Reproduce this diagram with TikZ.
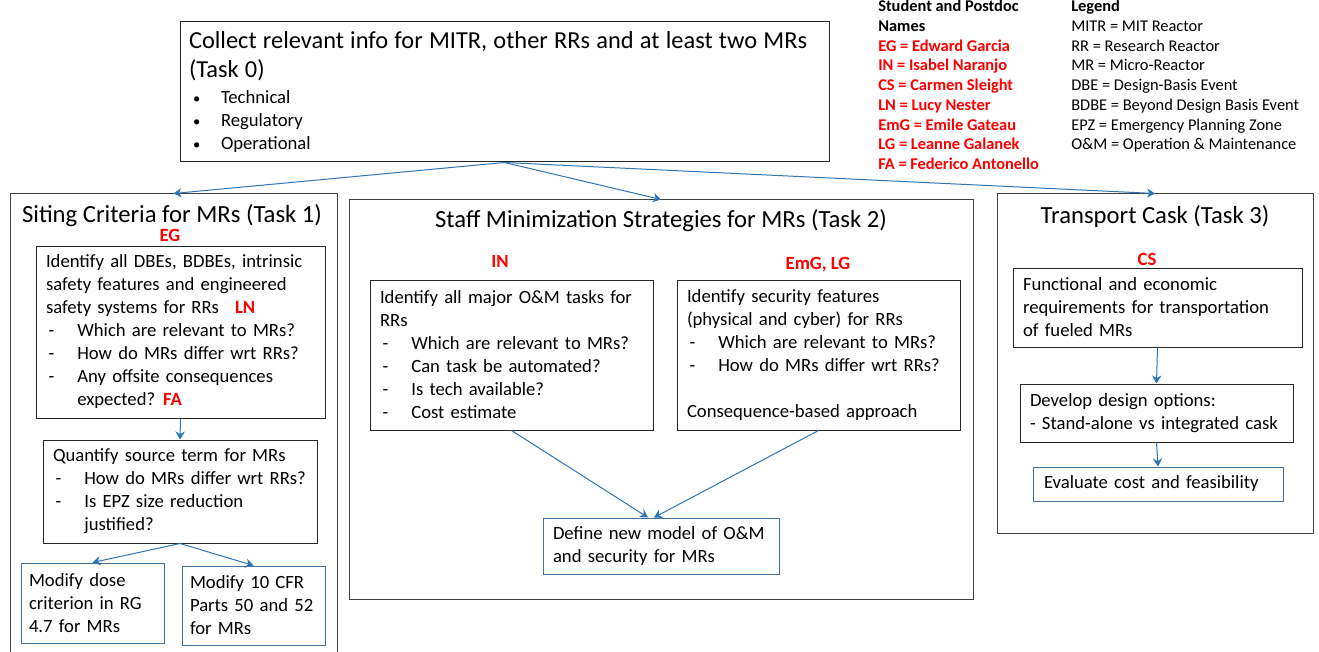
\documentclass[tikz,border=0pt]{standalone}
\usepackage{fontspec}
\setmainfont{Carlito}
\usetikzlibrary{arrows.meta}
\setlength{\parindent}{0pt}

\definecolor{arrowblue}{RGB}{46,117,182}
\definecolor{boxblue}{RGB}{65,113,156}

\newcommand{\nm}[1]{{\bfseries\color{red}#1}}
\newcommand{\dsh}{\makebox[23.5pt][l]{\hspace{2pt}-}}
\newcommand{\bul}{\makebox[24pt][l]{\hspace{3pt}{\fontsize{11}{11}\selectfont\textbullet}}}

\tikzset{
  frame/.style={draw=black!75, line width=0.75pt, inner sep=0pt},
  box/.style={draw=black!85, line width=0.75pt, align=left, inner xsep=7.5pt, inner ysep=0pt,
    font=\fontsize{14}{17.25}\selectfont},
  bluebox/.style={box, draw=boxblue},
  title/.style={font=\fontsize{18.5}{21}\selectfont},
  lead/.style={font=\fontsize{14}{16}\selectfont\bfseries, text=red},
  legend/.style={align=left, inner sep=0pt, anchor=north west, font=\fontsize{12.3}{14.8}\selectfont},
  flow/.style={every edge/.style={draw=arrowblue, line width=0.75pt, -{Stealth[length=6pt,width=7pt]}}}
}

\begin{document}
\begin{tikzpicture}[x=0.75pt, y=-0.75pt]
  \useasboundingbox (0,0) rectangle (1319,652);

  % task 0
  \node[box, text width=473.25pt, minimum height=105pt, inner xsep=6.75pt] (t0) at (504.5,92) {%
    {\fontsize{18.3}{21.75}\selectfont Collect relevant info for MITR, other RRs and at least two MRs\\(Task 0)\par}\vspace{2.25pt}
    {\bul Technical\\ \bul Regulatory\\ \bul Operational\par}};

  % names and legend
  \node[legend] (names) at (878,0) {\bfseries Student and Postdoc\\ \bfseries Names\\
    \nm{EG = Edward Garcia}\\ \nm{IN = Isabel Naranjo}\\ \nm{CS = Carmen Sleight}\\
    \nm{LN = Lucy Nester}\\ \nm{EmG = Emile Gateau}\\ \nm{LG = Leanne Galanek}\\
    \nm{FA = Federico Antonello}};
  \node[legend] (legend) at (1071,0) {\textbf{Legend}\\ MITR = MIT Reactor\\ RR = Research Reactor\\
    MR = Micro-Reactor\\ DBE = Design-Basis Event\\ BDBE = Beyond Design Basis Event\\
    EPZ = Emergency Planning Zone\\ O\&M = Operation \& Maintenance};

  % task 1
  \node[frame, minimum width=245.25pt, minimum height=353.25pt] (t1) at (173.5,429.5) {};
  \node[title] (t1h) at (172,216) {Siting Criteria for MRs (Task 1)};
  \node[lead] (eg) at (170,235) {EG};
  \node[box, text width=201.75pt, minimum height=129pt] (a1) at (180.5,332) {Identify all DBEs, BDBEs, intrinsic\\
    safety features and engineered\\ safety systems for RRs\hspace{12pt}\nm{LN}\\
    \dsh Which are relevant to MRs?\\ \dsh How do MRs differ wrt RRs?\\
    \dsh Any offsite consequences\\ \hspace*{23.5pt}expected?\hspace{6pt}\nm{FA}};
  \node[box, text width=190.5pt, minimum height=77.25pt] (a2) at (180,491.5) {Quantify source term for MRs\\
    \dsh How do MRs differ wrt RRs?\\ \dsh Is EPZ size reduction\\ \hspace*{23.5pt}justified?};
  \node[bluebox, text width=95.25pt, minimum height=60pt, inner xsep=6pt] (a3) at (92.5,603) {Modify dose\\ criterion in RG\\ 4.7 for MRs};
  \node[bluebox, text width=95.25pt, minimum height=59.25pt, inner xsep=6pt] (a4) at (253.5,605.5) {Modify 10 CFR\\ Parts 50 and 52\\ for MRs};

  % task 2
  \node[frame, minimum width=468pt, minimum height=299.25pt] (t2) at (661,399.5) {};
  \node[title] (t2h) at (661,221) {Staff Minimization Strategies for MRs (Task 2)};
  \node[lead] (in) at (500,261) {IN};
  \node[lead] (emg) at (818,265) {EmG, LG};
  \node[box, text width=197.25pt, minimum height=112.5pt] (b1) at (511.5,355) {Identify all major O\&M tasks for\\ RRs\\
    \dsh Which are relevant to MRs?\\ \dsh Can task be automated?\\ \dsh Is tech available?\\ \dsh Cost estimate};
  \node[box, text width=197.25pt, minimum height=112.5pt] (b2) at (818.5,355) {Identify security features\\
    (physical and cyber) for RRs\\ \dsh Which are relevant to MRs?\\ \dsh How do MRs differ wrt RRs?\\[17.25pt]
    Consequence-based approach};
  \node[bluebox, text width=162pt, minimum height=42pt] (b3) at (661,546) {Define new model of O\&M\\ and security for MRs};

  % task 3
  \node[frame, minimum width=237pt, minimum height=254.25pt] (t3) at (1155,363.5) {};
  \node[title] (t3h) at (1155,216) {Transport Cask (Task 3)};
  \node[lead] (cs) at (1147,259) {CS};
  \node[box, text width=201.75pt, minimum height=59.25pt] (c1) at (1157.5,307.5) {Functional and economic\\
    requirements for transportation\\ of fueled MRs};
  \node[box, text width=189.75pt, minimum height=43.5pt] (c2) at (1156.5,413) {Develop design options:\\ - Stand-alone vs integrated cask};
  \node[bluebox, text width=171pt, minimum height=25.5pt, inner xsep=8.25pt] (c3) at (1158,484) {Evaluate cost and feasibility};

  \path[flow]
    (t0.south) edge (t1.north)
    (t0.south) edge (t2.north)
    (t0.south) edge (t3.north)
    (a1.south) edge (a2.north)
    (a2.south) edge (a3.north)
    (a2.south) edge (a4.north)
    (b1.south) edge ([xshift=-9.75pt]b3.north)
    (b2.south) edge ([xshift=-5.25pt]b3.north)
    (c1.south) edge (c2.north)
    (c2.south) edge (c3.north)
    ;
\end{tikzpicture}
\end{document}
